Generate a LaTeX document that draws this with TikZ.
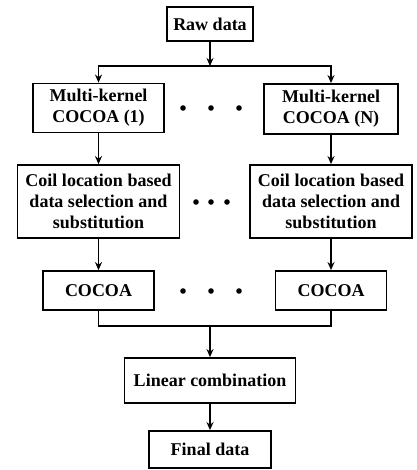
\documentclass[tikz,border=0pt]{standalone}
\usepackage{fontspec}
\setmainfont{Liberation Serif}
\usetikzlibrary{arrows.meta}
\begin{document}
\begin{tikzpicture}
  [x=1pt,y=-1pt,line width=1.8pt,>={Stealth[length=8pt,width=7pt]},
   every node/.style={draw,line width=1.8pt,align=center,inner sep=0pt,
     font=\fontsize{18}{21}\selectfont\bfseries}]
  \useasboundingbox (0,0) rectangle (416,470);
  \node[minimum width=86pt,minimum height=34pt]  (raw)    at (210,24)    {Raw data};
  \node[minimum width=131pt,minimum height=49pt] (mk1)    at (98.5,108)  {Multi-kernel\\COCOA (1)};
  \node[minimum width=134pt,minimum height=50pt] (mkN)    at (331,109)   {Multi-kernel\\COCOA (N)};
  \node[minimum width=162pt,minimum height=73pt] (coil1)  at (98.5,201.5){Coil location based\\data selection and\\substitution};
  \node[minimum width=162pt,minimum height=73pt] (coilN)  at (331,201.5) {Coil location based\\data selection and\\substitution};
  \node[minimum width=111pt,minimum height=39pt] (cocoa1) at (98.5,290.5){COCOA};
  \node[minimum width=111pt,minimum height=39pt] (cocoaN) at (331,290.5) {COCOA};
  \node[minimum width=171pt,minimum height=45pt] (lin)    at (210,380.5) {Linear combination};
  \node[minimum width=122pt,minimum height=37pt] (fin)    at (210,449.5) {Final data};
  \coordinate (split) at (210,66);
  \coordinate (merge) at (210,326);

  \draw [->] (raw) -- (split);
  \draw [->] (split) -| (mk1);
  \draw [->] (split) -| (mkN);
  \foreach \from/\to in {mk1/coil1,mkN/coilN,coil1/cocoa1,coilN/cocoaN,merge/lin,lin/fin}
    \draw [->] (\from) -- (\to);
  \draw (cocoa1) |- (merge) -| (cocoaN);

  \foreach \x/\y in {183/108,211/108,239/108,196/202,211/202,227/202,183/291,211/291,239/291}
    \fill (\x,\y) circle (2.8pt);
\end{tikzpicture}
\end{document}
